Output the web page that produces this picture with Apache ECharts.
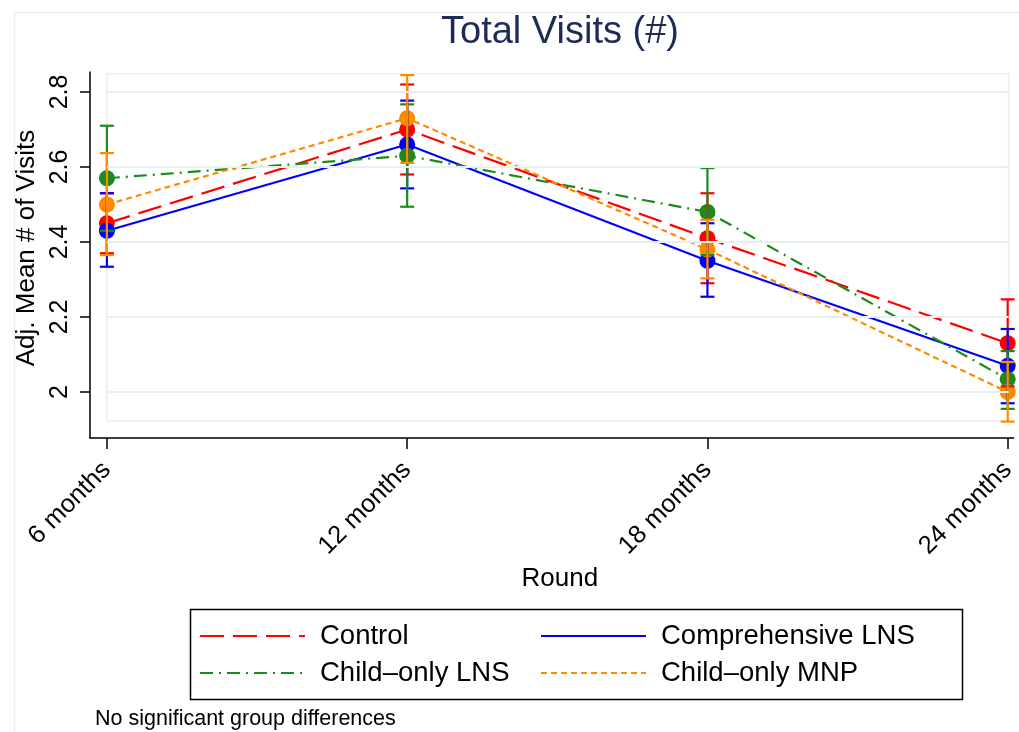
<!DOCTYPE html>
<html><head><meta charset="utf-8">
<script src="https://cdn.jsdelivr.net/npm/echarts@6/dist/echarts.min.js"></script>
<style>html,body{margin:0;padding:0;background:#fff}#c{width:1019px;height:732px}</style>
</head><body><div id="c"></div>
<script>
const categories = ['6 months', '12 months', '18 months', '24 months'];
const yTicks = [2, 2.2, 2.4, 2.6, 2.8];

const controlMean = [2.45, 2.70, 2.41, 2.13];
const controlLo   = [2.37, 2.58, 2.29, 2.015];
const controlHi   = [2.53, 2.82, 2.53, 2.247];

const compMean = [2.43, 2.66, 2.35, 2.07];
const compLo   = [2.334, 2.543, 2.254, 1.97];
const compHi   = [2.53, 2.777, 2.45, 2.168];

const childLnsMean = [2.57, 2.63, 2.48, 2.034];
const childLnsLo   = [2.43, 2.494, 2.365, 1.955];
const childLnsHi   = [2.71, 2.767, 2.597, 2.109];

const mnpMean = [2.50, 2.73, 2.38, 2.00];
const mnpLo   = [2.365, 2.611, 2.303, 1.921];
const mnpHi   = [2.637, 2.845, 2.459, 2.08];

const FONT = 'Liberation Sans, Arial, Helvetica, sans-serif';
const RED = '#ff0000', BLUE = '#0000ff', GREEN = '#1d8a1d', ORANGE = '#ff8a00';
const GRID = '#e7eff1';

const groups = [
  {name: 'Control', color: RED, mean: controlMean, lo: controlLo, hi: controlHi, dash: [24, 9]},
  {name: 'Comprehensive LNS', color: BLUE, mean: compMean, lo: compLo, hi: compHi, dash: 'solid'},
  {name: 'Child\u2013only LNS', color: GREEN, mean: childLnsMean, lo: childLnsLo, hi: childLnsHi, dash: [13, 6, 2, 6]},
  {name: 'Child\u2013only MNP', color: ORANGE, mean: mnpMean, lo: mnpLo, hi: mnpHi, dash: [6, 4]}
];

function errRender(color) {
  return function (params, api) {
    const x = api.value(0), lo = api.value(1), hi = api.value(2);
    const a = api.coord([x, hi]), b = api.coord([x, lo]);
    const w = 7;
    const st = {stroke: color, lineWidth: 2.2};
    return {type: 'group', children: [
      {type: 'line', shape: {x1: a[0], y1: a[1], x2: b[0], y2: b[1]}, style: st},
      {type: 'line', shape: {x1: a[0] - w, y1: a[1], x2: a[0] + w, y2: a[1]}, style: st},
      {type: 'line', shape: {x1: b[0] - w, y1: b[1], x2: b[0] + w, y2: b[1]}, style: st}
    ]};
  };
}

const series = [];
// background plot region + gridlines
series.push({
  type: 'line', name: '__bg', data: [], silent: true,
  markArea: {silent: true, itemStyle: {color: 'rgba(0,0,0,0)', borderColor: GRID, borderWidth: 1.5},
    data: [[{coord: [0, 1.9227]}, {coord: [3.003, 2.848]}]]},
  markLine: {silent: true, symbol: 'none', label: {show: false},
    lineStyle: {color: GRID, width: 2, type: 'solid'},
    data: yTicks.map(v => [{coord: [0, v]}, {coord: [3.003, v]}])}
});
groups.forEach(g => {
  series.push({
    type: 'line', name: g.name, z: 3,
    data: g.mean.map((v, i) => [i, v]),
    symbol: 'circle', symbolSize: 16,
    itemStyle: {color: g.color},
    lineStyle: {color: g.color, width: 2.2, type: g.dash},
    clip: false
  });
});
groups.forEach(g => {
  series.push({
    type: 'custom', name: g.name + ' CI', z: 4,
    renderItem: errRender(g.color),
    encode: {x: 0, y: [1, 2]},
    data: g.mean.map((v, i) => [i, g.lo[i], g.hi[i]])
  });
});

const legendCommon = {
  orient: 'vertical', itemWidth: 105, itemHeight: 14, itemGap: 7,
  padding: 0, selectedMode: false,
  itemStyle: {opacity: 0},
  textStyle: {fontFamily: FONT, fontSize: 27.5, color: '#000', lineHeight: 30, padding: [0, 0, 0, 10]}
};

const option = {
  animation: false,
  backgroundColor: '#fff',
  title: [
    {text: 'Total Visits (#)', left: 560, top: 14, textAlign: 'center', padding: 0,
     textStyle: {fontFamily: FONT, fontSize: 38, fontWeight: 'normal', color: '#1e2c54'}},
    {text: 'No significant group differences', left: 95, top: 708, padding: 0,
     textStyle: {fontFamily: FONT, fontSize: 21.5, fontWeight: 'normal', color: '#000'}}
  ],
  legend: [
    Object.assign({left: 199, top: 621, data: [groups[0].name, groups[2].name]}, legendCommon),
    Object.assign({left: 540, top: 621, data: [groups[1].name, groups[3].name]}, legendCommon)
  ],
  grid: {left: 90, top: 72, right: 0, height: 366, containLabel: false},
  xAxis: {
    type: 'value', min: -0.0563, max: 3.0199,
    name: 'Round', nameLocation: 'middle', nameGap: 128,
    nameTextStyle: {fontFamily: FONT, fontSize: 26, color: '#000', padding: [0, 0, 0, 16]},
    axisLine: {show: true, onZero: false, lineStyle: {color: '#000', width: 1.5}},
    axisTick: {show: true, length: 11, customValues: [0, 1, 2, 3], lineStyle: {color: '#000', width: 1.5}},
    axisLabel: {show: true, rotate: 45, margin: 28, customValues: [0, 1, 2, 3],
      formatter: v => categories[Math.round(v)],
      fontFamily: FONT, fontSize: 25.5, color: '#000'},
    splitLine: {show: false}
  },
  yAxis: {
    type: 'value', min: 1.8773, max: 2.8533,
    name: 'Adj. Mean # of Visits', nameLocation: 'middle', nameGap: 48,
    nameTextStyle: {fontFamily: FONT, fontSize: 26, color: '#000', padding: [0, 0, 0, 14]},
    axisLine: {show: true, onZero: false, lineStyle: {color: '#000', width: 1.5}},
    axisTick: {show: true, length: 10, customValues: yTicks, lineStyle: {color: '#000', width: 1.5}},
    axisLabel: {show: true, rotate: 90, margin: 17, customValues: yTicks,
      formatter: v => String(Math.round(v * 10) / 10),
      fontFamily: FONT, fontSize: 25, color: '#000'},
    splitLine: {show: false}
  },
  graphic: [
    {type: 'rect', left: 12, top: 10, silent: true, z: -10,
     shape: {width: 1100, height: 800}, style: {fill: 'none', stroke: GRID, lineWidth: 1.5}},
    {type: 'rect', left: 188, top: 607, silent: true,
     shape: {width: 772, height: 90}, style: {fill: 'none', stroke: '#000', lineWidth: 1.5}}
  ],
  series: series
};

const chart = echarts.init(document.getElementById('c'), null, {renderer: 'canvas'});
chart.setOption(option);
</script>
</body></html>
